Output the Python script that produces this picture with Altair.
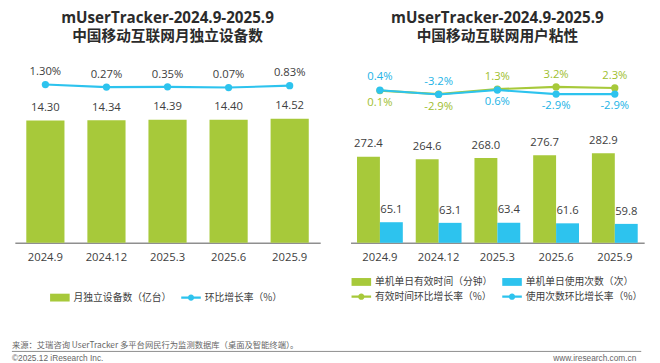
import altair as alt
import pandas as pd

# ---------------- data ----------------
months = ["2024.9", "2024.12", "2025.3", "2025.6", "2025.9"]
devices = [14.30, 14.34, 14.39, 14.40, 14.52]          # 亿台
device_growth = [1.30, 0.27, 0.35, 0.07, 0.83]         # %
time_minutes = [272.4, 264.6, 268.0, 276.7, 282.9]     # 分钟
use_counts = [65.1, 63.1, 63.4, 61.6, 59.8]            # 次
time_growth = [0.1, -2.9, 1.3, 3.2, 2.3]               # %
count_growth = [0.4, -3.2, 0.6, -2.9, -2.9]            # %

title_main = "mUserTracker-2024.9-2025.9"
left_sub = "中国移动互联网月独立设备数"
right_sub = "中国移动互联网用户粘性"
left_legend = ["月独立设备数（亿台）", "环比增长率（%）"]
right_legend = ["单机单日有效时间（分钟）", "单机单日使用次数（次）",
                "有效时间环比增长率（%）", "使用次数环比增长率（%）"]
source_note = "来源：艾瑞咨询 UserTracker 多平台网民行为监测数据库（桌面及智能终端）。"
copyright_note = "©2025.12 iResearch Inc."
site_note = "www.iresearch.com.cn"

# ---------------- style ----------------
GREEN = "#A7C93A"
BLUE = "#2DC3EE"
GREEN_TXT = "#9EBE2E"
BLUE_TXT = "#22B3E6"
TXT = "#404040"
FONT = "Noto Sans CJK SC"
NUM_FONT = "Open Sans"
PLOT_H = 195
LEFT_W = 312
RIGHT_W = 300
GAP = 31
RECT = "M-2,-0.8H2V0.8H-2Z"
LINEDOT = "M-2,-0.25H2V0.25H-2Z M0.65,0 A0.65,0.65 0 1 1 -0.65,0 A0.65,0.65 0 1 1 0.65,0 Z"
BLUE_LABEL_ABOVE = ["2024.9", "2024.12"]   # label placement (layout)

x_axis = alt.Axis(title=None, labelAngle=0, ticks=False, grid=False,
                  domainColor="#8f8f8f", domainWidth=1.5,
                  labelFont=NUM_FONT, labelFontSize=11.5, labelColor=TXT,
                  labelPadding=9)


def title(sub):
    return alt.TitleParams(text=title_main, subtitle=sub, anchor="middle", frame="group",
                           font=NUM_FONT, fontSize=15.5, fontWeight="bold", color="#2b2b2b",
                           subtitleFont=FONT, subtitleFontSize=15,
                           subtitleFontWeight="bold", subtitleColor="#2b2b2b",
                           subtitlePadding=3, offset=8)


def legend_layer(items, colors, shapes, lx, ly, columns):
    leg = alt.Legend(title=None, orient="none", legendX=lx, legendY=ly,
                     direction="horizontal", columns=columns,
                     labelFont=FONT, labelFontSize=10, labelColor=TXT,
                     labelOffset=9, columnPadding=10, rowPadding=5,
                     symbolSize=100, symbolStrokeWidth=0, symbolOpacity=1,
                     padding=0, labelLimit=400)
    return alt.Chart(pd.DataFrame({"item": items})).mark_point(
        filled=True, opacity=0, size=100).encode(
        color=alt.Color("item:N", scale=alt.Scale(domain=items, range=colors), legend=leg),
        shape=alt.Shape("item:N", scale=alt.Scale(domain=items, range=shapes), legend=leg),
    )


# ---------------- left chart ----------------
left_df = pd.DataFrame({"month": months, "devices": devices, "growth": device_growth})
left_df["devices_text"] = [f"{v:.2f}" for v in devices]
left_df["growth_text"] = [f"{v:.2f}%" for v in device_growth]

lx = alt.X("month:N", sort=months,
           scale=alt.Scale(domain=months, paddingInner=0.375, paddingOuter=0.1875),
           axis=x_axis)
ly_bar = alt.Y("devices:Q", scale=alt.Scale(domain=[0, 22.32], nice=False), axis=None)
ly_line = alt.Y("growth:Q", scale=alt.Scale(domain=[-63.38, 14.62], nice=False, zero=False),
                axis=None)

bl = alt.Chart(left_df)
left = alt.layer(
    bl.mark_bar(color=GREEN).encode(x=lx, y=ly_bar),
    bl.mark_text(dy=-12.5, font=NUM_FONT, fontSize=11.5, color=TXT).encode(
        x=lx, y=ly_bar, text="devices_text:N"),
    bl.mark_line(color=BLUE, strokeWidth=2.2).encode(x=lx, y=ly_line),
    bl.mark_point(filled=True, color=BLUE, size=55, opacity=1).encode(x=lx, y=ly_line),
    bl.mark_text(dy=-12.5, font=NUM_FONT, fontSize=11.5, color=TXT).encode(
        x=lx, y=ly_line, text="growth_text:N"),
    legend_layer(left_legend, [GREEN, BLUE], [RECT, LINEDOT], 41, 246, 2),
).resolve_scale(y="independent").properties(width=LEFT_W, height=PLOT_H,
                                              title=title(left_sub))

# ---------------- right chart ----------------
rb_df = pd.DataFrame({
    "month": months + months,
    "series": [right_legend[0]] * 5 + [right_legend[1]] * 5,
    "value": time_minutes + use_counts,
})
rb_df["value_text"] = [f"{v:.1f}" for v in rb_df["value"]]

rl_df = pd.DataFrame({"month": months, "tg": time_growth, "cg": count_growth})
rl_df["tg_text"] = [f"{v:.1f}%" for v in time_growth]
rl_df["cg_text"] = [f"{v:.1f}%" for v in count_growth]
rl_df["blue_above"] = [m in BLUE_LABEL_ABOVE for m in months]

rx = alt.X("month:N", sort=months,
           scale=alt.Scale(domain=months, paddingInner=0.22, paddingOuter=0.11),
           axis=x_axis)
roff = alt.XOffset("series:N", scale=alt.Scale(domain=right_legend[:2],
                                               paddingInner=0, paddingOuter=0))
ry_bar = alt.Y("value:Q", scale=alt.Scale(domain=[0, 603.7], nice=False), axis=None)
line_scale = alt.Scale(domain=[-129.5, 33], nice=False, zero=False)
ry_t = alt.Y("tg:Q", scale=line_scale, axis=None)
ry_c = alt.Y("cg:Q", scale=line_scale, axis=None)

rb = alt.Chart(rb_df)
rl = alt.Chart(rl_df)
right = alt.layer(
    rb.mark_bar().encode(
        x=rx, xOffset=roff, y=ry_bar,
        color=alt.condition(alt.datum.series == right_legend[0],
                            alt.value(GREEN), alt.value(BLUE))),
    rb.mark_text(dy=-12.5, font=NUM_FONT, fontSize=11.5, color=TXT).encode(
        x=rx, xOffset=roff, y=ry_bar, text="value_text:N"),
    rl.mark_line(color=GREEN, strokeWidth=2.2).encode(x=rx, y=ry_t),
    rl.mark_point(filled=True, color=GREEN, size=55, opacity=1).encode(x=rx, y=ry_t),
    rl.mark_line(color=BLUE, strokeWidth=2.2).encode(x=rx, y=ry_c),
    rl.mark_point(filled=True, color=BLUE, size=55, opacity=1).encode(x=rx, y=ry_c),
    rl.transform_filter("!datum.blue_above").mark_text(
        dy=-12, font=NUM_FONT, fontSize=11.5, color=GREEN_TXT).encode(
        x=rx, y=ry_t, text="tg_text:N"),
    rl.transform_filter("datum.blue_above").mark_text(
        dy=13, font=NUM_FONT, fontSize=11.5, color=GREEN_TXT).encode(
        x=rx, y=ry_t, text="tg_text:N"),
    rl.transform_filter("datum.blue_above").mark_text(
        dy=-13, font=NUM_FONT, fontSize=11.5, color=BLUE_TXT).encode(
        x=rx, y=ry_c, text="cg_text:N"),
    rl.transform_filter("!datum.blue_above").mark_text(
        dy=12, font=NUM_FONT, fontSize=11.5, color=BLUE_TXT).encode(
        x=rx, y=ry_c, text="cg_text:N"),
    legend_layer(right_legend, [GREEN, BLUE, GREEN, BLUE],
                 [RECT, RECT, LINEDOT, LINEDOT], 6, 230, 2),
).resolve_scale(y="independent").properties(width=RIGHT_W, height=PLOT_H,
                                              title=title(right_sub))

# ---------------- footer ----------------
FOOT_W = 635
foot = alt.layer(
    alt.Chart(pd.DataFrame({"t": [source_note]})).mark_text(
        align="left", baseline="middle", font=FONT, fontSize=8.5, color="#666666").encode(
        x=alt.value(-3), y=alt.value(8), text="t:N"),
    alt.Chart(pd.DataFrame({"t": [source_note]})).mark_rule(
        color="#8c8c8c", strokeWidth=1).encode(
        x=alt.value(-3), x2=alt.value(FOOT_W + 5), y=alt.value(15)),
    alt.Chart(pd.DataFrame({"t": [copyright_note]})).mark_text(
        align="left", baseline="middle", font="Liberation Sans", fontSize=8.5,
        color="#666666").encode(x=alt.value(-3), y=alt.value(22), text="t:N"),
    alt.Chart(pd.DataFrame({"t": [site_note]})).mark_text(
        align="right", baseline="middle", font="Liberation Sans", fontSize=8.5,
        color="#666666").encode(x=alt.value(FOOT_W), y=alt.value(22), text="t:N"),
).properties(width=FOOT_W, height=24)

top = alt.hconcat(left, right, spacing=GAP).resolve_scale(
    x="independent", y="independent", color="independent", shape="independent")

chart = alt.vconcat(top, foot, spacing=35).properties(
    padding={"left": 3, "top": -1, "right": 8, "bottom": 0}
).configure(font=FONT).configure_view(stroke=None)

chart.save("out.html", embed_options={"renderer": "svg", "actions": False})
